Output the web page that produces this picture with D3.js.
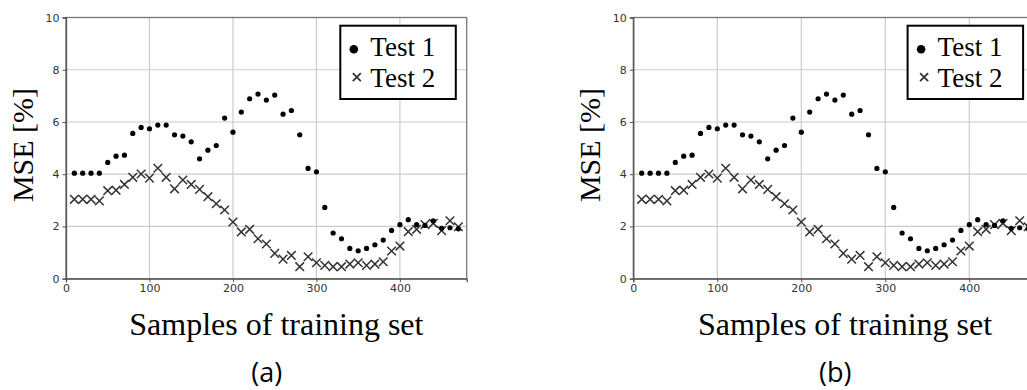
<!DOCTYPE html>
<html>
<head>
<meta charset="utf-8">
<script src="https://cdn.jsdelivr.net/npm/d3@7"></script>
<style>
  html, body { margin: 0; padding: 0; background: #fff; }
  svg { display: block; }
</style>
</head>
<body>
<svg id="chart" width="1027" height="390"></svg>
<script>
// Training-set sizes (samples) at which the MSE was evaluated
const samples = [10, 20, 30, 40, 50, 60, 70, 80, 90, 100, 110, 120, 130, 140, 150, 160,
  170, 180, 190, 200, 210, 220, 230, 240, 250, 260, 270, 280, 290, 300, 310, 320,
  330, 340, 350, 360, 370, 380, 390, 400, 410, 420, 430, 440, 450, 460, 470];

// MSE [%] for each test
const test1 = [4.04, 4.04, 4.04, 4.04, 4.45, 4.69, 4.73, 5.56, 5.79, 5.74, 5.88, 5.88,
  5.51, 5.46, 5.24, 4.59, 4.92, 5.10, 6.15, 5.61, 6.38, 6.89, 7.07, 6.84, 7.03, 6.30,
  6.44, 5.51, 4.22, 4.09, 2.73, 1.75, 1.53, 1.16, 1.07, 1.16, 1.30, 1.48, 1.85, 2.07,
  2.26, 2.07, 2.04, 2.21, 1.93, 1.95, 1.91];
const test2 = [3.04, 3.04, 3.04, 2.98, 3.37, 3.39, 3.61, 3.88, 4.01, 3.85, 4.23, 3.88,
  3.44, 3.78, 3.61, 3.42, 3.14, 2.87, 2.63, 2.17, 1.79, 1.89, 1.53, 1.33, 0.97, 0.75,
  0.89, 0.46, 0.84, 0.61, 0.51, 0.46, 0.46, 0.56, 0.61, 0.51, 0.56, 0.65, 1.06, 1.25,
  1.80, 1.89, 2.07, 2.12, 1.84, 2.22, 1.99];

const xTicks = [0, 100, 200, 300, 400];
const yTicks = [0, 2, 4, 6, 8, 10];
const seriesNames = ["Test 1", "Test 2"];
const panelLabels = ["(a)", "(b)"];

const svg = d3.select("#chart");
const serif = "'Liberation Serif', 'DejaVu Serif', serif";
const sans = "'Open Sans', 'Noto Sans', sans-serif";

function crossPath(s) {
  return `M${-s},${-s}L${s},${s}M${-s},${s}L${s},${-s}`;
}

function drawPanel(left, width, label) {
  const top = 17.5, bottom = 278.7;
  const x = d3.scaleLinear().domain([0, 480]).range([left, left + width]);
  const y = d3.scaleLinear().domain([0, 10]).range([bottom, top]);
  const g = svg.append("g");

  // grid
  g.append("g").selectAll("line").data(xTicks.slice(1)).join("line")
    .attr("x1", d => x(d)).attr("x2", d => x(d))
    .attr("y1", top).attr("y2", bottom)
    .attr("stroke", "#cccccc").attr("stroke-width", 1.2);
  g.append("g").selectAll("line").data(yTicks.slice(1, -1)).join("line")
    .attr("x1", left).attr("x2", left + width)
    .attr("y1", d => y(d)).attr("y2", d => y(d))
    .attr("stroke", "#cccccc").attr("stroke-width", 1.2);

  // frame
  g.append("rect")
    .attr("x", left).attr("y", top)
    .attr("width", width).attr("height", bottom - top)
    .attr("fill", "none").attr("stroke", "#777").attr("stroke-width", 1.3);

  // axes
  const xAxis = d3.axisBottom(x).tickValues(xTicks).tickSize(3.5).tickPadding(2);
  const yAxis = d3.axisLeft(y).tickValues(yTicks).tickSize(3.5).tickPadding(3);
  const ax = g.append("g").attr("transform", `translate(0,${bottom})`).call(xAxis);
  const ay = g.append("g").attr("transform", `translate(${left},0)`).call(yAxis);
  [ax, ay].forEach(a => {
    a.select(".domain").attr("stroke", "#555").attr("stroke-width", 1.3);
    a.selectAll(".tick line").attr("stroke", "#555").attr("stroke-width", 1);
    a.selectAll(".tick text").attr("fill", "#333")
      .style("font-family", "'DejaVu Sans', sans-serif").style("font-size", "11px");
  });

  // Test 2 crosses
  g.append("g").selectAll("path").data(samples).join("path")
    .attr("transform", (d, i) => `translate(${x(d)},${y(test2[i])})`)
    .attr("d", crossPath(4.3))
    .attr("stroke", "#333").attr("stroke-width", 1.5).attr("fill", "none");

  // Test 1 dots
  g.append("g").selectAll("circle").data(samples).join("circle")
    .attr("cx", d => x(d)).attr("cy", (d, i) => y(test1[i]))
    .attr("r", 2.6).attr("fill", "#000");

  // axis titles
  g.append("text")
    .attr("transform", `translate(${left - 33},${145}) rotate(-90)`)
    .attr("text-anchor", "middle")
    .style("font-family", serif).style("font-size", "30px").attr("fill", "#000")
    .text("MSE [%]");
  g.append("text")
    .attr("x", x(252)).attr("y", 335)
    .attr("text-anchor", "middle")
    .style("font-family", serif).style("font-size", "32px").attr("fill", "#000")
    .text("Samples of training set");
  g.append("text")
    .attr("x", x(240.5)).attr("y", 382)
    .attr("text-anchor", "middle")
    .style("font-family", sans).style("font-size", "27px").attr("fill", "#000")
    .text(label);

  // legend
  const lx = left + 274.3, ly = 25.7;
  const lg = g.append("g").attr("transform", `translate(${lx},${ly})`);
  lg.append("rect").attr("width", 115.5).attr("height", 73.3)
    .attr("fill", "#fff").attr("stroke", "#000").attr("stroke-width", 2);
  lg.append("circle").attr("cx", 13.5).attr("cy", 23.5).attr("r", 4.3).attr("fill", "#000");
  lg.append("path").attr("transform", "translate(16.5,51.5)").attr("d", crossPath(4))
    .attr("stroke", "#333").attr("stroke-width", 1.8).attr("fill", "none");
  lg.selectAll("text").data(seriesNames).join("text")
    .attr("x", 30).attr("y", (d, i) => 30.5 + i * 30.5)
    .style("font-family", serif).style("font-size", "27px").attr("fill", "#000")
    .text(d => d);
}

drawPanel(66, 400.7, panelLabels[0]);
drawPanel(633.3, 403.2, panelLabels[1]);
</script>
</body>
</html>
